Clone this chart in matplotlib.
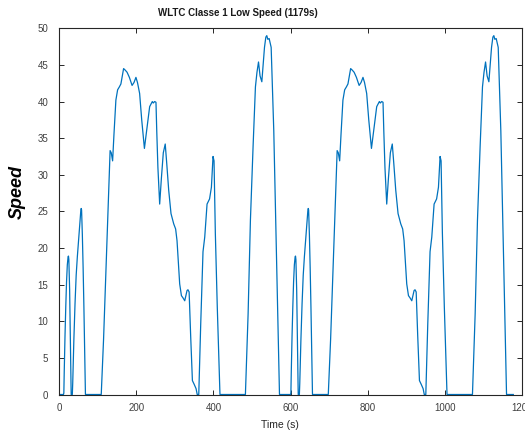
import matplotlib
matplotlib.use("Agg")
import matplotlib.pyplot as plt

# One WLTC Class 1 low-speed phase (time in s, speed in km/h)
phase_time = [0, 11, 12, 13, 15, 17, 19, 21, 23, 24, 25, 27, 29, 31, 34, 35, 38, 41, 44, 47,
              50, 53, 56, 57, 58, 60, 62, 64, 66, 68,
              109, 115, 121, 127, 132, 135, 138.5, 142, 147, 151.5, 156, 160, 164, 167, 171,
              176, 182, 189, 194, 199, 203, 208.6, 214, 221, 228, 234.6, 241.5, 244, 247.6,
              251, 253, 256, 260.6, 265, 270, 275, 279, 284, 290, 297, 302, 305.6, 309, 312.5,
              317, 321, 325.6, 329, 331.6, 334, 337, 341, 345.5, 350, 355, 358,
              362, 367, 373, 377.5, 383.5, 390, 394.8, 399, 401.6, 405, 410, 417,
              483, 490, 496, 503, 509, 513, 517, 521, 525.6, 529, 532.5, 536, 538.5, 541,
              544.6, 549.8, 556.6, 564, 571.4, 589]
phase_speed = [0, 0, 0.2, 3.1, 8.0, 12.0, 15.4, 17.7, 18.8, 18.9, 18.4, 14.3, 7.1, 0, 0, 1.5,
               7.5, 12.4, 16.3, 18.8, 20.9, 23.1, 25.1, 25.4, 25.2, 21.8, 17.3, 12.0, 5.6, 0,
               0, 7.5, 16.5, 25.5, 33.3, 33.0, 31.9, 35.5, 40.2, 41.6, 42.0, 42.4, 43.6, 44.5,
               44.3, 44.0, 43.3, 42.2, 42.6, 43.3, 42.6, 41.1, 37.5, 33.6, 36.5, 39.3, 40.0,
               39.8, 40.0, 39.9, 36.0, 31.0, 26.0, 29.5, 33.0, 34.2, 31.5, 27.9, 24.7, 23.3,
               22.6, 21.0, 18.0, 15.1, 13.5, 13.2, 12.8, 13.6, 14.2, 14.3, 14.0, 8.0, 1.9, 1.4,
               0.8, 0,
               0, 9.5, 19.5, 21.5, 26.0, 26.7, 28.3, 32.5, 31.9, 22.0, 12.0, 0,
               0, 11.0, 23.8, 34.0, 42.0, 44.0, 45.4, 43.5, 42.7, 45.0, 47.4, 48.8, 49.0, 48.5,
               48.6, 47.4, 36.0, 18.0, 0, 0]
phase_length = 589  # seconds per phase; the cycle is driven twice (1179 s)

time_s = phase_time + [t + phase_length for t in phase_time[1:]]
speed = phase_speed + phase_speed[1:]

x_ticks = [0, 200, 400, 600, 800, 1000, 1200]
y_ticks = [0, 5, 10, 15, 20, 25, 30, 35, 40, 45, 50]

plt.rcParams["font.family"] = ["Liberation Sans", "DejaVu Sans"]

fig = plt.figure(figsize=(5.25, 4.32), dpi=100)
ax = fig.add_axes([0.1128, 0.0868, 0.8811, 0.8477])

ax.plot(time_s, speed, color="#0072BD", linewidth=0.9)

ax.set_xlim(0, 1200)
ax.set_ylim(0, 50)
ax.set_xticks(x_ticks)
ax.set_yticks(y_ticks)

edge = "#262626"
for side in ax.spines.values():
    side.set_color(edge)
    side.set_linewidth(0.8)
ax.tick_params(direction="in", length=3.5, width=0.7, colors=edge, labelcolor="#404040",
               labelsize=7, top=True, right=True)
ax.tick_params(axis="x", pad=6)
ax.tick_params(axis="y", pad=8)

fig.text(238 / 525, 1 - 13 / 432, "WLTC Classe 1 Low Speed (1179s)", ha="center", va="center",
         fontsize=7, fontweight="bold", color="#1a1a1a")
fig.text(280 / 525, 1 - 425 / 432, "Time (s)", ha="center", va="center",
         fontsize=7.5, color="#262626")
fig.text(17.5 / 525, 1 - 192 / 432, "Speed", ha="center", va="center", rotation=90,
         fontsize=13, fontweight="bold", fontstyle="italic", color="#000000")

fig.savefig("out.png", dpi=100)
